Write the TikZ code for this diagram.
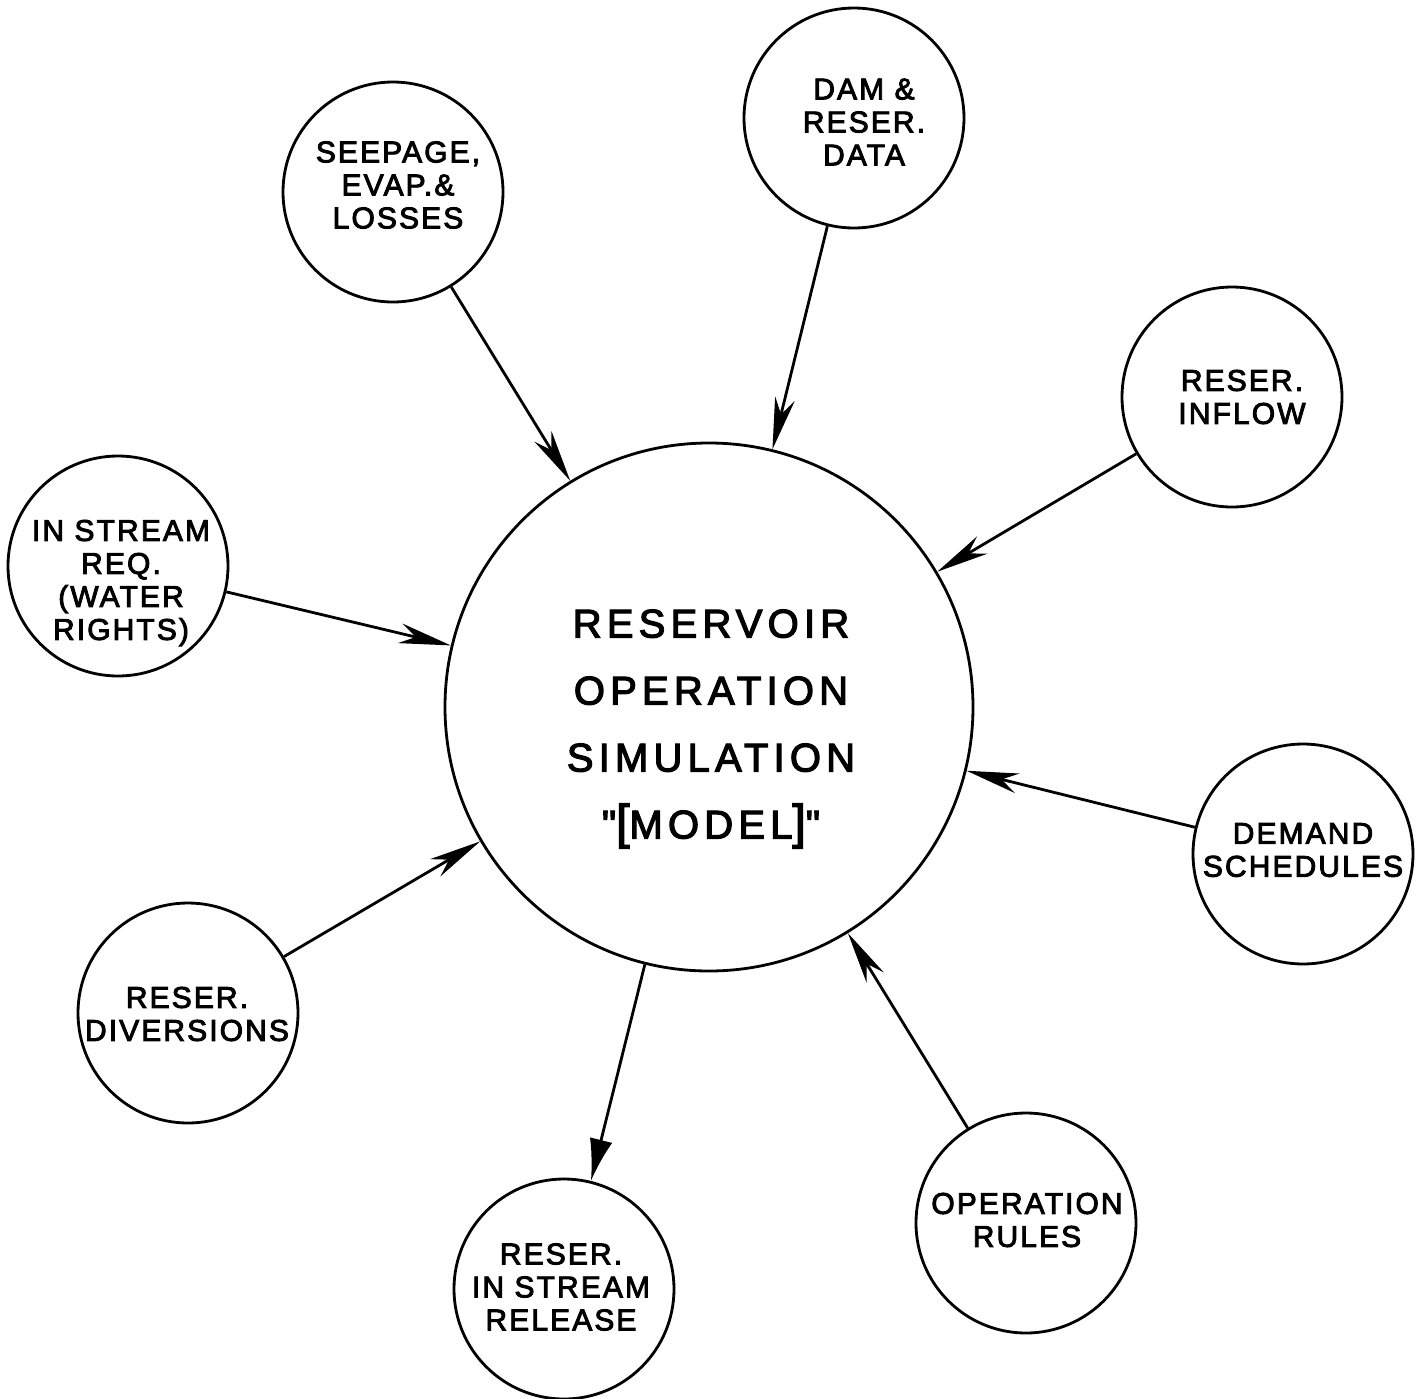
\documentclass[tikz,border=0pt]{standalone}
\usepackage{fontspec}
\setmainfont{Liberation Sans}[Ligatures=TeXOff, LetterSpace=7, FakeBold=3]
\usetikzlibrary{arrows.meta}

\begin{document}
\begin{tikzpicture}[x=0.5pt,y=-0.5pt,
  src/.style={draw, circle, line width=1.4pt, minimum size=110pt, inner sep=0pt},
  model/.style={draw, circle, line width=1.4pt, minimum size=264pt, inner sep=0pt},
  srctext/.style={inner sep=0pt, align=center, font=\fontsize{15}{16.5}\selectfont},
  modeltext/.style={inner sep=0pt, align=center,
    font=\fontsize{20}{33.5}\selectfont\addfontfeatures{LetterSpace=13}},
  feed/.style={line width=1.4pt, -{Stealth[length=26pt,width=10pt,inset=8pt]}},
  outflow/.style={line width=1.4pt, -{Latex[length=21pt,width=11.5pt]}}]
\useasboundingbox (0,0) rectangle (1421,1399);
\node[model] (sim) at (709,707) {};
\node[src] (seep) at (393,192) {};
\node[src] (dam) at (854,118) {};
\node[src] (inflow) at (1232,397) {};
\node[src] (instream) at (118,566) {};
\node[src] (demand) at (1303,854) {};
\node[src] (divert) at (188,1013) {};
\node[src] (rules) at (1026,1223) {};
\node[src] (release) at (564,1289) {};
\node[modeltext] (simtext) at (711,729) {RESERVOIR\\OPERATION\\SIMULATION\\%
  "{\fontsize{24}{24}\selectfont[}MODEL{\fontsize{24}{24}\selectfont]}"};
\node[srctext] (seeptext) at (398,185) {SEEPAGE,\\EVAP.\&\\LOSSES};
\node[srctext] (damtext) at (864,122) {DAM \&\\RESER.\\DATA};
\node[srctext] (inflowtext) at (1242,397) {RESER.\\INFLOW};
\node[srctext] (instreamtext) at (121,583) {IN STREAM\\REQ.\\(WATER\\RIGHTS)};
\node[srctext] (demandtext) at (1303,850) {DEMAND\\SCHEDULES};
\node[srctext] (diverttext) at (187,1014) {RESER.\\DIVERSIONS};
\node[srctext] (rulestext) at (1027,1220) {OPERATION\\RULES};
\node[srctext] (releasetext) at (561,1287) {RESER.\\IN STREAM\\RELEASE};
\draw[feed] (seep) -- (sim);
\draw[feed] (dam) -- (sim);
\draw[feed] (inflow) -- (sim);
\draw[feed] (instream) -- (sim);
\draw[feed] (demand) -- (sim);
\draw[feed] (divert) -- (sim);
\draw[feed] (rules) -- (sim);
\draw[outflow] (sim) -- (release);
\end{tikzpicture}
\end{document}
